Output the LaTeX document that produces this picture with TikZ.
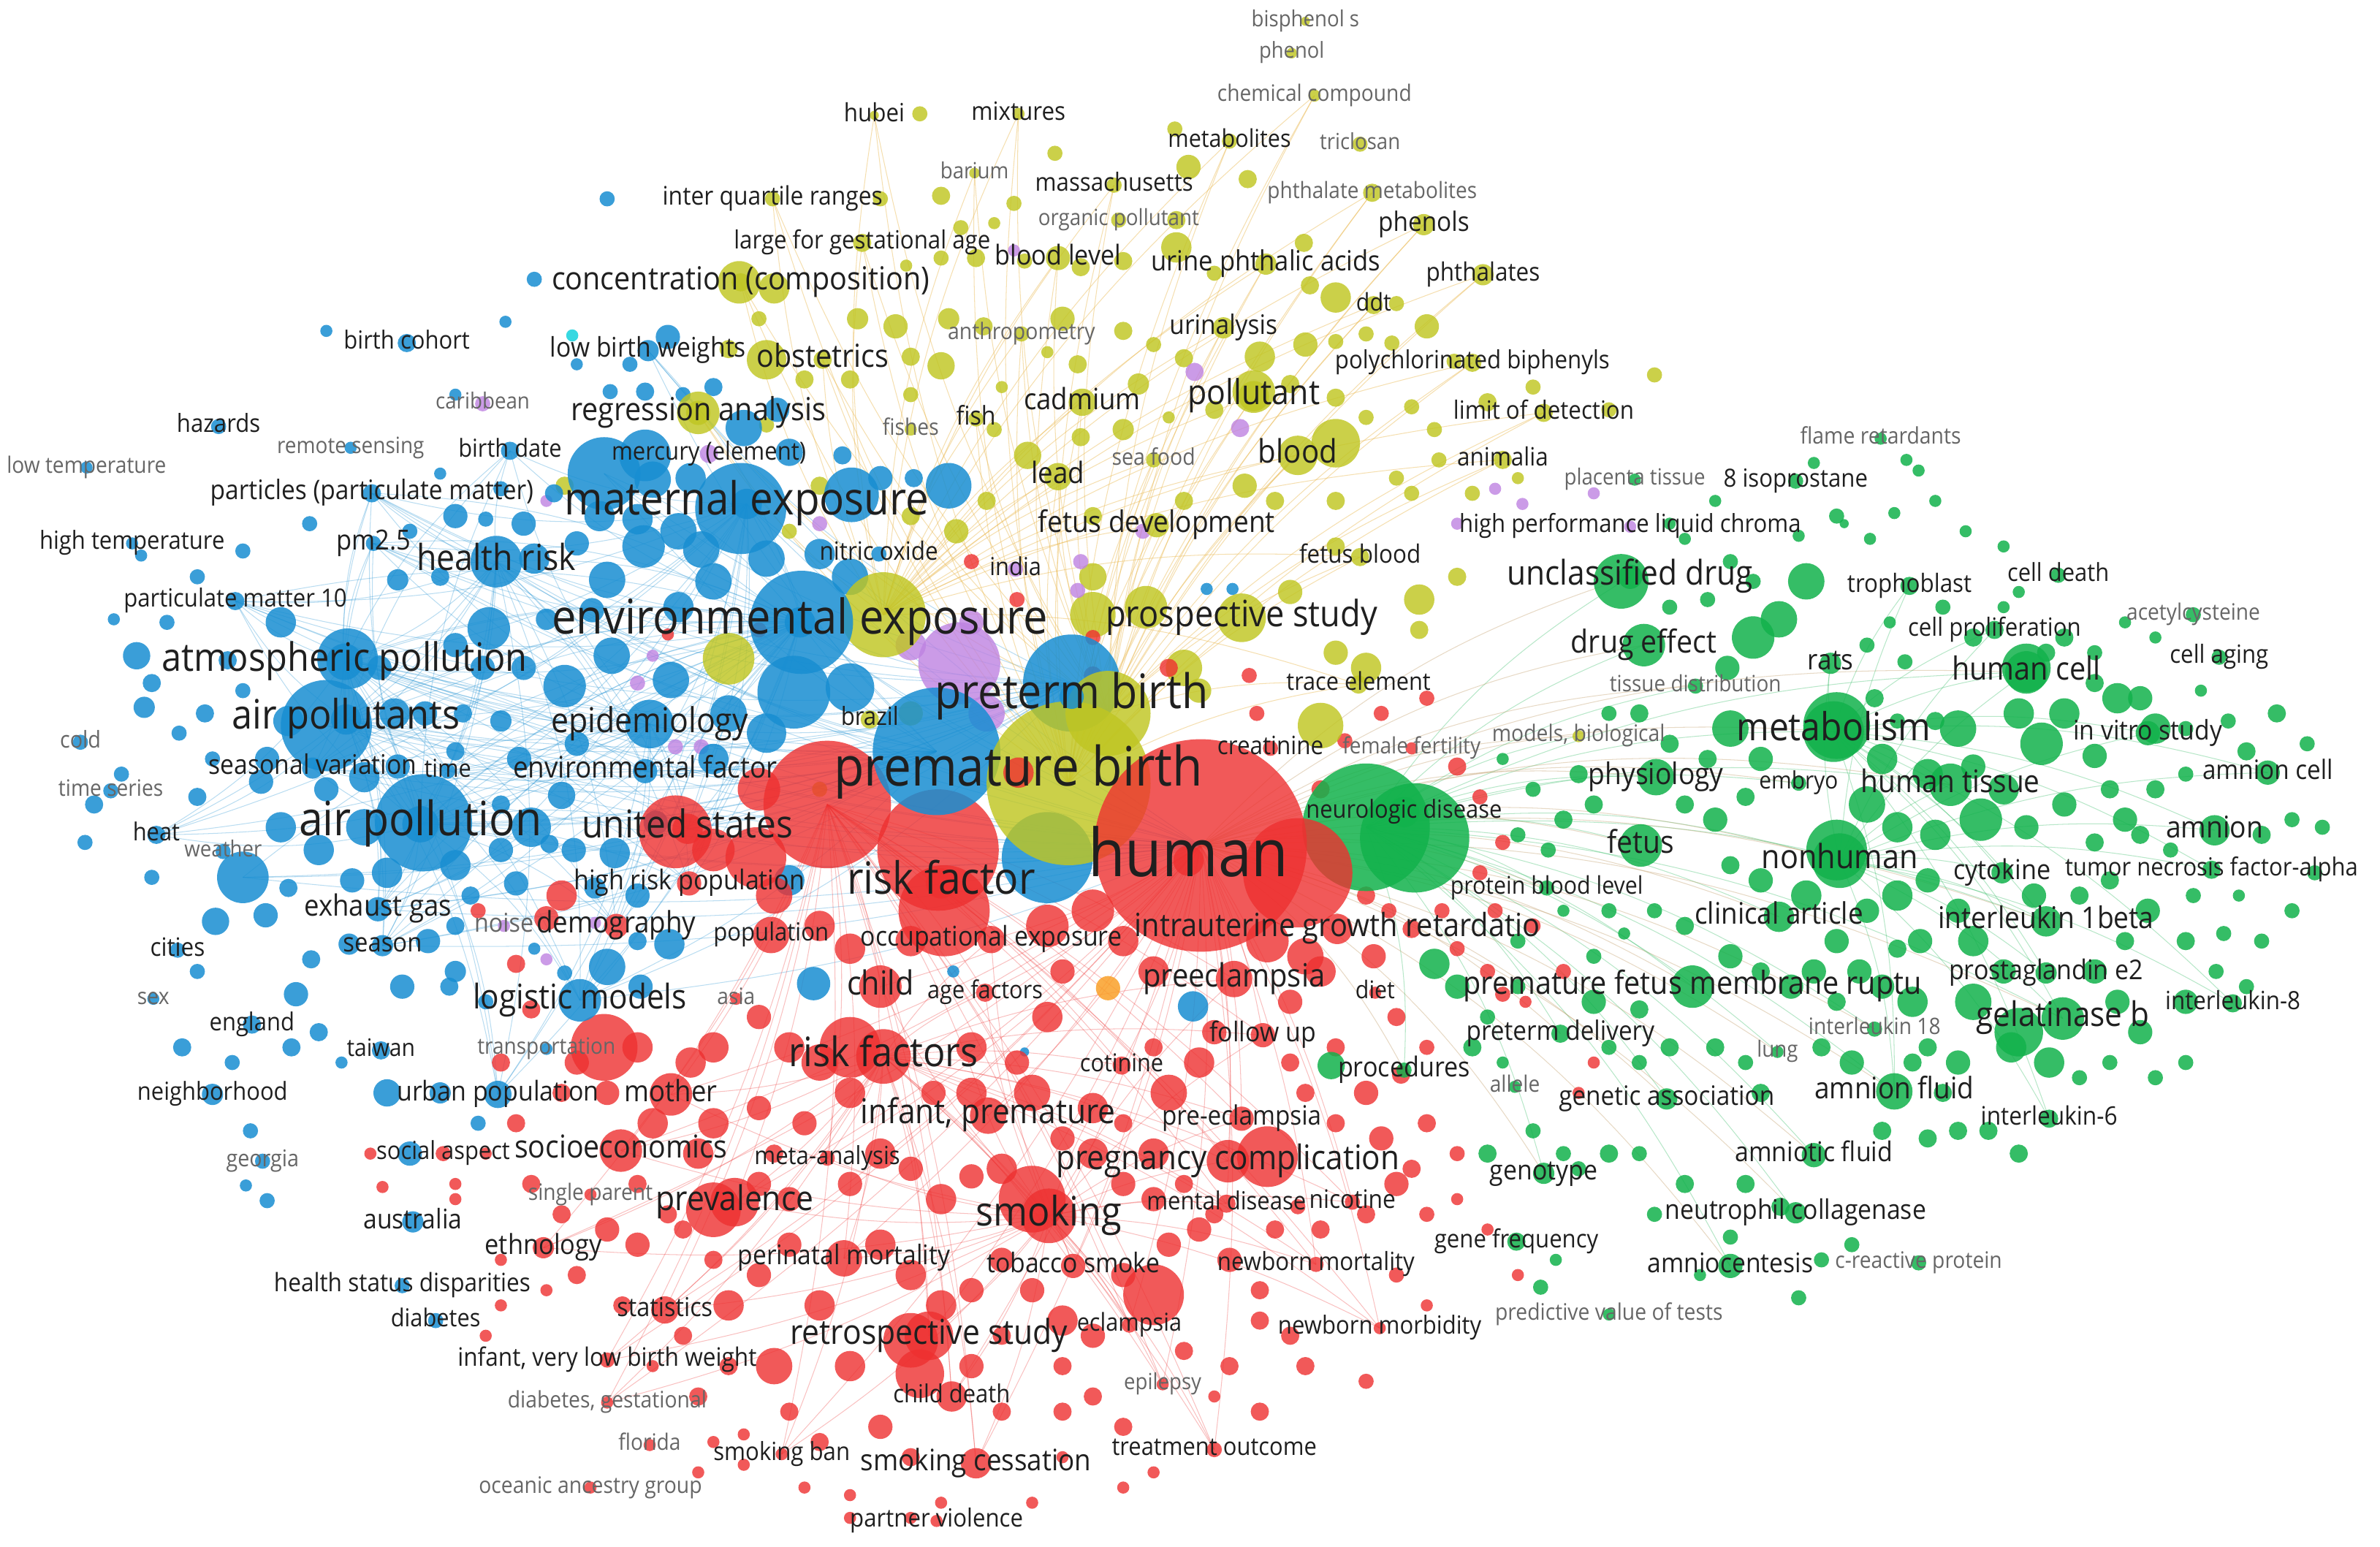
\documentclass[tikz,border=0pt]{standalone}
\usepackage{fontspec}
\usepackage{graphicx}
\setmainfont{Open Sans}
\usetikzlibrary{backgrounds}
\definecolor{vr}{RGB}{238,48,48}
\definecolor{vb}{RGB}{24,142,210}
\definecolor{vg}{RGB}{18,178,76}
\definecolor{vy}{RGB}{192,198,34}
\definecolor{vp}{RGB}{190,130,225}
\definecolor{vo}{RGB}{250,160,40}
\definecolor{vc}{RGB}{20,210,220}
\definecolor{vey}{RGB}{235,185,80}
\definecolor{vtan}{RGB}{195,160,110}
\pgfdeclarelayer{bgl}
\pgfdeclarelayer{edges}
\pgfdeclarelayer{circ}
\pgfsetlayers{bgl,edges,circ,main}
\tikzset{
  cr/.style={fill=vr,fill opacity=.8},
  cb/.style={fill=vb,fill opacity=.85},
  cg/.style={fill=vg,fill opacity=.85},
  cy/.style={fill=vy,fill opacity=.82},
  cp/.style={fill=vp,fill opacity=.8},
  co/.style={fill=vo,fill opacity=.85},
  cc/.style={fill=vc,fill opacity=.85},
  lab/.style={inner sep=0pt,text=black!88},
  labg/.style={inner sep=0pt,text=black!60},
  eb/.style={draw=vb,draw opacity=.3,line width=.5pt},
  er/.style={draw=vr,draw opacity=.3,line width=.5pt},
  ey/.style={draw=vey,draw opacity=.45,line width=.5pt},
  eg/.style={draw=vg,draw opacity=.3,line width=.5pt},
  et/.style={draw=vtan,draw opacity=.4,line width=.5pt}
}
\newcommand\kw[7][lab]{%
  \coordinate (#2) at (#3);
  \begin{pgfonlayer}{circ}\fill[#5] (#2) circle (#4);\end{pgfonlayer}
  \node[#1] (#2t) at (#2) {\scalebox{1}[1.1]{\resizebox{#6pt}{!}{\fontsize{20}{24}\selectfont #7\strut}}};
}
\newcommand\hub[4]{%
  \coordinate (#1) at (#2);
  \begin{pgfonlayer}{circ}\fill[#4] (#1) circle (#3);\end{pgfonlayer}
}
\begin{document}
\begin{tikzpicture}[x=1pt,y=-1pt]
\useasboundingbox (0,0) rectangle (1568,1019);
\begin{pgfonlayer}{bgl}\fill[white] (0,0) rectangle (1568,1019);\end{pgfonlayer}

% ---------- unlabeled small circles ----------
\begin{pgfonlayer}{circ}
\foreach \x/\y/\r in {606/75/5,695/101/5,774/85/5,783/110/8,822/118/6,775/145/6,668/134/5,620/129/6,580/131/5,633/150/5,655/147/4,597/175/4,620/170/5,643/170/6,675/172/5,712/176/6,740/172/6,775/163/10,800/180/5,859/160/6,880/196/10,863/188/6,920/200/5,940/215/8,900/220/5,917/226/5,880/225/5,860/227/8,830/235/10,780/236/6,710/240/6,690/232/4,620/241/9,600/235/6,560/250/6,600/260/5,660/255/4,655/283/5,677/300/9,712/288/6,740/283/7,770/275/4,800/270/6,850/253/6,880/262/6,900/275/5,930/268/5,945/283/5,948/303/5,920/315/5,980/265/6,1060/270/5,1090/247/5,840/330/6,880/330/6,930/325/5,970/325/5,1000/315/4,780/330/6,820/320/8,720/340/6,650/330/6,630/350/8,600/340/6,540/320/6,520/350/5,720/380/9,850/390/8,880/360/6,935/395/10,960/380/6,880/430/8,935/415/6,900/440/10,720/405/15,755/400/14,500/210/5,480/230/6,505/280/5,530/250/6,565/210/7,590/215/8,625/210/7,648/215/6,700/210/8,740/218/6,750/253/7,760/227/5,958/238/5,1010/255/5,510/190/10,480/434/17,372/320/6,540/520/5,600/470/8,780/440/12,790/455/8}
  \fill[cy] (\x,\y) circle (\r);
\foreach \x/\y/\r in {668/165/4,787/245/6,817/282/6,753/350/5,710/389/5,712/370/5,960/345/4,985/322/4,1003/332/4,1050/325/4,420/450/5,430/432/4,445/492/5,462/492/5,360/632/4,392/608/4,600/425/10,650/470/12,640/410/8,540/345/5,360/330/4}
  \fill[cp] (\x,\y) circle (\r);
\foreach \x/\y/\r in {400/131/5,352/184/5,215/218/4,333/212/4,300/260/4,440/222/8,415/240/5,380/240/4,402/258/5,425/258/6,290/312/4,204/345/5,160/363/5,93/366/4,75/408/4,130/380/5,110/410/5,90/432/9,150/435/6,95/466/7,80/510/5,118/483/5,140/500/5,160/455/5,185/410/10,262/382/7,270/350/5,300/340/8,345/345/8,365/325/6,352/368/10,380/358/8,400/382/12,424/360/14,447/350/12,462/362/12,390/402/8,360/408/7,322/414/14,300/425/8,345/440/8,372/452/14,403/432/12,442/448/12,480/470/12,505/483/13,523/456/24,560/453/16,470/500/10,380/490/8,342/500/8,330/475/7,305/470/6,370/524/9,350/545/13,340/582/8,310/590/6,300/640/7,320/660/5,282/620/8,230/622/7,205/632/6,195/655/8,175/603/8,142/607/9,130/640/5,120/690/6,153/700/5,192/690/6,210/680/6,225/700/4,265/650/8,290/720/7,255/720/9,270/760/8,315/740/5,400/637/12,422/650/8,441/622/10,362/556/6,210/560/10,232/580/8,185/545/10,100/450/6,135/470/6,56/555/5,62/530/6,100/578/5,130/525/6,172/515/8,240/512/10,262/505/8,352/625/4,372/641/5,536/648/11,628/640/4,786/663/10,675/693/3,165/745/5,162/781/4,176/791/5,296/650/6,450/260/5,470/255/6,520/298/9,555/300/6,602/315/6,625/320/15,580/315/8,490/282/12,512/270/8,430/316/12,455/315/10,420/342/10,395/340/10,540/365/10,560/380/12,505/368/12,470/383/12,447/400/10,330/322/5,320/342/5,290/380/6,318/440/8,280/470/8,300/495/6,260/470/10,250/440/8,190/475/10,176/500/8,240/545/12,215/520/8,190/585/6,255/575/10,300/570/10,330/560/8,330/530/6,300/610/6,432/542/8,405/562/10,420/590/8,392/585/7,378/560/8,520/580/10,420/620/6,795/388/4,812/388/4,425/300/17}
  \fill[cb] (\x,\y) circle (\r);
\foreach \x/\y/\r in {500/520/14,470/560/14,510/590/12,540/610/10,560/625/10,600/620/10,690/610/14,720/600/14,740/620/10,760/640/10,700/640/8,690/670/10,670/700/8,640/690/10,615/720/8,560/720/10,540/700/12,520/690/10,500/670/8,470/690/10,455/700/10,470/740/10,500/730/8,510/760/6,520/790/8,560/780/8,580/760/10,600/770/8,620/790/10,640/775/8,660/770/10,720/760/10,740/780/8,760/760/10,770/720/12,790/700/10,800/680/8,760/690/6,850/660/8,870/640/10,880/690/6,860/720/6,880/740/6,900/720/8,910/750/8,940/740/6,850/700/6,835/620/14,860/630/12,905/630/8,930/612/6,950/600/5,960/625/5,980/640/5,990/655/5,920/670/6,940/690/5,900/590/6,580/820/10,600/840/10,620/860/10,640/850/8,660/830/8,680/850/8,700/870/10,660/880/6,640/900/8,700/900/6,720/880/8,760/853/20,740/840/8,770/820/8,790/810/8,810/830/8,830/850/6,850/880/6,860/900/6,900/910/5,810/900/6,830/870/6,520/820/8,500/840/8,480/860/10,470/830/6,540/860/10,560/900/10,510/900/12,480/900/6,460/920/6,520/930/6,540/950/6,580/940/8,600/960/6,660/930/6,700/930/6,720/920/6,740/940/6,620/990/4,560/985/4,490/945/4,460/970/4,430/900/4,450/880/6,410/860/6,380/840/6,360/850/4,370/800/6,400/810/8,420/820/8,440/800/6,350/780/6,340/740/6,320/760/4,300/780/4,370/720/6,380/700/8,420/690/10,400/720/8,430/740/10,460/760/10,500/780/8,530/740/8,420/780/6,450/810/6,330/830/4,300/790/4,330/860/4,320/880/4,330/700/6,350/665/6,340/635/6,315/600/5,360/605/8,370/590/10,640/720/10,680/720/12,700/750/8,720/730/10,740/740/6,760/790/8,780/780/6,800/800/6,840/810/6,870/810/6,900/800/6,920/780/8,930/770/6,940/800/5,960/790/4,980/810/4,960/760/5,920/840/5,940/860/4,1000/840/4,855/795/5,780/890/6,800/920/4,830/930/6,760/970/4,740/980/4,700/960/4,680/990/4,600/1000/4,560/1000/4,530/980/4,490/965/4,470/950/4,828/470/5,870/520/6,823/445/5,886/488/5,910/470/5,940/460/5,960/505/6,975/525/5,990/555/5,975/575/5,985/600/5,915/600/5,1010/610/5,1030/640/5,1005/660/4,1050/700/4,1040/720/4,720/445/6,770/440/6,640/370/5,670/395/5,500/415/5,440/418/4,720/420/5,923/708/6,244/760/4,252/782/4}
  \fill[cr] (\x,\y) circle (\r);
\foreach \x/\y/\r in {1140/370/5,1155/383/5,1190/383/12,1172/408/12,1155/420/14,1138/440/8,1100/400/5,1125/395/5,1110/355/4,1185/353/4,1215/345/3,1232/355/4,1275/330/4,1295/350/4,1320/360/4,1330/390/4,1280/400/5,1300/420/6,1245/410/4,1230/425/5,1255/436/5,1235/460/6,1250/475/5,1275/475/6,1290/480/12,1300/505/8,1330/470/10,1345/490/14,1360/470/10,1380/450/6,1395/460/10,1410/460/8,1420/480/10,1380/498/8,1390/520/6,1400/540/8,1420/520/6,1440/510/5,1440/480/5,1468/475/5,1480/495/6,1500/470/6,1520/490/5,1450/455/4,1420/420/4,1400/410/4,1380/430/5,1360/420/6,1348/430/6,1320/400/4,1270/510/10,1240/500/10,1230/530/12,1250/545/10,1275/550/10,1305/540/14,1320/520/10,1335/545/8,1360/530/8,1380/555/6,1410/550/6,1430/560/5,1445/590/5,1475/590/4,1490/550/6,1510/540/5,1530/545/5,1525/575/5,1510/600/5,1490/620/5,1465/615/5,1440/620/6,1415/600/8,1400/620/6,1380/640/8,1395/660/8,1410/680/8,1440/660/8,1460/640/5,1480/650/5,1440/700/5,1420/710/5,1390/700/5,1370/710/5,1350/700/10,1325/690/10,1300/660/12,1290/700/8,1270/690/6,1260/660/10,1240/650/8,1225/640/8,1210/620/8,1230/600/8,1250/590/10,1270/580/8,1290/600/8,1300/620/10,1320/640/8,1340/590/8,1370/590/6,1390/580/6,1265/620/8,1250/625/6,1190/590/10,1160/580/8,1140/570/6,1130/540/8,1110/530/6,1150/525/6,1160/500/8,1140/480/12,1125/500/6,1100/490/6,1080/470/6,1060/470/5,1040/510/6,1030/540/6,1050/530/6,1010/520/5,990/500/4,1000/550/5,1020/560/5,1000/620/5,1030/600/4,1060/600/5,1050/630/5,1070/615/4,1090/600/5,1110/610/6,1140/630/8,1160/640/6,1180/650/8,1195/640/8,1210/660/6,1200/690/6,1220/700/8,1260/700/6,1280/720/6,1290/745/6,1310/745/6,1270/750/6,1240/745/6,1160/720/6,1150/700/5,1130/690/6,1100/690/6,1080/700/5,1060/690/5,1050/660/8,1080/665/6,1000/650/5,980/670/5,960/650/8,945/635/10,970/690/6,1010/745/5,1030/760/5,980/760/6,1060/760/6,1080/760/5,1110/780/6,1090/800/5,1150/780/6,1140/815/5,1220/820/5,1200/830/5,1185/855/5,1120/840/4,1040/770/5,1025/830/4,1015/848/5,990/700/4,1210/340/5,1195/305/4,1256/303/4,1264/310/4,1248/338/4,1100/345/4,1130/330/4,877/702/9,1173/795/6,1330/760/6}
  \fill[cg] (\x,\y) circle (\r);
\fill[co] (730,651) circle (8);
\fill[cc] (377,221) circle (4);
\end{pgfonlayer}

% ---------- big hub circles ----------
\hub{mxd}{398,312}{24}{cb}
\hub{mxe}{561,326}{18}{cb}
\hub{mxc}{488,335}{30}{cb}
\hub{yle}{582,405}{28}{cy}
\hub{exc}{528,410}{34}{cb}
\hub{atd}{229,434}{20}{cb}
\hub{atc}{215,478}{30}{cb}
\hub{apc}{279,542}{32}{cb}
\hub{wec}{160,578}{17}{cb}
\hub{conc}{487,186}{14}{cy}
\hub{obsc}{505,237}{13}{cy}
\hub{regc}{460,272}{14}{cy}
\hub{polc}{826,258}{14}{cy}
\hub{bloc}{880,292}{16}{cy}
\hub{trac}{870,478}{15}{cy}
\hub{usc}{445,548}{24}{cr}
\hub{usd}{498,565}{20}{cr}
\hub{trnr}{398,690}{22}{cr}
\hub{pur}{632,437}{27}{cp}
\hub{ptc}{706,450}{32}{cb}
\hub{ylb}{730,470}{28}{cy}
\hub{pbr}{545,530}{42}{cr}
\hub{rfa}{618,560}{40}{cr}
\hub{rfb}{622,600}{30}{cr}
\hub{pbb}{617,495}{42}{cb}
\hub{blc}{690,565}{30}{cb}
\hub{pby}{704,516}{54}{cy}
\hub{ngr1}{900,545}{42}{cg}
\hub{ngr2}{932,552}{36}{cg}
\hub{humc}{791,557}{70}{cr}
\hub{rdr}{855,575}{36}{cr}
\hub{rfsc}{560,690}{20}{cr}
\hub{prvc}{470,797}{18}{cr}
\hub{smoc}{680,790}{22}{cr}
\hub{retc}{600,883}{18}{cr}
\hub{cdec}{606,905}{16}{cr}
\hub{prcc}{835,762}{20}{cr}
\hub{ucdc}{1068,383}{18}{cg}
\hub{mtbc}{1210,478}{22}{cg}
\hub{nhuc}{1210,560}{20}{cg}
\hub{gelc}{1330,680}{16}{cg}
\hub{hcec}{1335,440}{16}{cg}

% ---------- labelled keywords: yellow ----------
\kw[labg]{bis}{860,14}{3}{cy}{71}{bisphenol s}
\kw[labg]{phe}{851,35}{3.5}{cy}{43}{phenol}
\kw[labg]{chc}{866,63}{4}{cy}{128}{chemical compound}
\kw{hub}{576,76}{3}{cy}{40}{hubei}
\kw{mix}{671,75}{4}{cy}{62}{mixtures}
\kw{metl}{810,93}{5}{cy}{81}{metabolites}
\kw[labg]{tri}{896,95}{5}{cy}{53}{triclosan}
\kw[labg]{bar}{642,114}{3.5}{cy}{45}{barium}
\kw{mas}{734,122}{5}{cy}{104}{massachusetts}
\kw{iqr}{509,131}{5}{cy}{145}{inter quartile ranges}
\kw[labg]{orp}{737,145}{5}{cy}{106}{organic pollutant}
\kw[labg]{phm}{904,127}{6}{cy}{138}{phthalate metabolites}
\kw{phs}{938,148}{7}{cy}{60}{phenols}
\kw{lga}{568,160}{6}{cy}{169}{large for gestational age}
\kw{bll}{697,170}{8}{cy}{83}{blood level}
\kw{upa}{834,174}{7}{cy}{151}{urine phthalic acids}
\kw{pht}{977,181}{7}{cy}{75}{phthalates}
\kw{con}{488,186}{6}{cy}{249}{concentration (composition)}
\kw{ddt}{905,201}{6}{cy}{23}{ddt}
\kw[labg]{ant}{673,220}{5}{cy}{97}{anthropometry}
\kw{ury}{806,216}{7}{cy}{71}{urinalysis}
\kw{obs}{542,237}{6}{cy}{87}{obstetrics}
\kw{pcb}{970,239}{6}{cy}{181}{polychlorinated biphenyls}
\kw{reg}{460,272}{8}{cy}{168}{regression analysis}
\kw{cad}{713,265}{9}{cy}{77}{cadmium}
\kw{pol}{826,261}{10}{cy}{87}{pollutant}
\kw{fis}{643,276}{5}{cy}{26}{fish}
\kw[labg]{fss}{600,283}{4}{cy}{37}{fishes}
\kw{lod}{1017,272}{6}{cy}{119}{limit of detection}
\kw{blo}{855,300}{13}{cy}{52}{blood}
\kw[labg]{sfd}{760,303}{5}{cy}{55}{sea food}
\kw{ani}{990,303}{6}{cy}{60}{animalia}
\kw{lea}{697,314}{9}{cy}{35}{lead}
\kw{fde}{762,346}{8}{cy}{156}{fetus development}
\kw{fbl}{896,367}{6}{cy}{80}{fetus blood}
\kw{pro}{818,407}{16}{cy}{179}{prospective study}
\kw{tre}{895,451}{6}{cy}{95}{trace element}
\kw[labg]{mob}{1040,485}{4}{cy}{114}{models, biological}
\kw{bra}{573,474}{6}{cy}{38}{brazil}
% purple / misc
\kw{hpl}{1074,347}{4}{cp}{225}{high performance liquid chroma}
\kw[labg]{plt}{1077,316}{4}{cg}{93}{placenta tissue}
\kw{iso}{1183,317}{5}{cg}{95}{8 isoprostane}
\kw[labg]{fla}{1239,289}{4}{cg}{106}{flame retardants}
\kw{ind}{669,375}{5}{cp}{34}{india}
\kw{nio}{579,365}{5}{cb}{78}{nitric oxide}
% ---------- blue ----------
\kw{bco}{268,226}{6}{cb}{83}{birth cohort}
\kw{lbw}{427,231}{7}{cb}{129}{low birth weights}
\kw[labg]{car}{318,266}{5}{cp}{62}{caribbean}
\kw{haz}{144,281}{5}{cb}{55}{hazards}
\kw[labg]{rse}{231,295}{4}{cb}{97}{remote sensing}
\kw{bda}{336,297}{6}{cb}{68}{birth date}
\kw{mer}{467,299}{6}{cp}{128}{mercury (element)}
\kw[labg]{ltp}{57,308}{4}{cb}{105}{low temperature}
\kw{pti}{245,325}{6}{cb}{213}{particles (particulate matter)}
\kw{mex}{492,332}{10}{cb}{240}{maternal exposure}
\kw{hte}{87,358}{4}{cb}{122}{high temperature}
\kw{pmt}{246,358}{5}{cb}{49}{pm2.5}
\kw{hri}{327,370}{17}{cb}{105}{health risk}
\kw{pmx}{155,396}{6}{cb}{147}{particulate matter 10}
\kw{eex}{527,410}{10}{cb}{327}{environmental exposure}
\kw{atm}{227,436}{12}{cb}{241}{atmospheric pollution}
\kw{apt}{228,474}{10}{cb}{150}{air pollutants}
\kw{epi}{428,477}{16}{cb}{130}{epidemiology}
\kw[labg]{col}{53,489}{5}{cb}{27}{cold}
\kw{sva}{206,506}{7}{cb}{137}{seasonal variation}
\kw{tim}{295,508}{5}{cb}{31}{time}
\kw{enf}{425,508}{8}{cb}{174}{environmental factor}
\kw[labg]{tse}{73,521}{5}{cb}{69}{time series}
\kw{apo}{277,543}{12}{cb}{160}{air pollution}
\kw{hea}{103,550}{6}{cb}{31}{heat}
\kw[labg]{wea}{147,561}{5}{cb}{51}{weather}
\kw{exg}{249,599}{8}{cb}{97}{exhaust gas}
\kw[labg]{noi}{332,610}{4}{cp}{39}{noise}
\kw{cit}{117,626}{5}{cb}{36}{cities}
\kw{sea}{252,623}{7}{cb}{52}{season}
\kw{lgm}{382,659}{14}{cb}{141}{logistic models}
\kw[labg]{sex}{101,658}{4}{cb}{21}{sex}
\kw{eng}{166,675}{6}{cb}{56}{england}
\kw{tai}{251,692}{6}{cb}{45}{taiwan}
\kw[labg]{trn}{360,691}{4}{cb}{91}{transportation}
\kw{nei}{140,721}{7}{cb}{99}{neighborhood}
\kw{urp}{328,721}{9}{cb}{133}{urban population}
\kw[labg]{geo}{173,765}{5}{cb}{48}{georgia}
\kw{aus}{272,805}{7}{cb}{65}{australia}
\kw{hsd}{265,847}{5}{cb}{169}{health status disparities}
\kw{dia}{287,870}{5}{cb}{59}{diabetes}
% ---------- red ----------
\kw{usa}{453,546}{10}{cr}{139}{united states}
\kw{hrp}{454,582}{8}{cr}{152}{high risk population}
\kw{dem}{406,610}{8}{cr}{105}{demography}
\kw{ppl}{508,616}{12}{cr}{76}{population}
\kw{rif}{620,582}{10}{cr}{124}{risk factor}
\kw{pmb}{671,509}{10}{cr}{243}{premature birth}
\kw{ptb}{706,459}{8}{cb}{180}{preterm birth}
\kw{hum}{783,567}{10}{cr}{132}{human}
\kw{cre}{837,493}{5}{cr}{70}{creatinine}
\kw[labg]{ffe}{930,493}{4}{cr}{91}{female fertility}
\kw{occ}{653,619}{9}{cr}{172}{occupational exposure}
\kw{iug}{881,612}{10}{cr}{267}{intrauterine growth retardatio}
\kw{chi}{580,650}{14}{cr}{44}{child}
\kw{agf}{649,654}{6}{cr}{76}{age factors}
\kw[labg]{asi}{485,658}{4}{cr}{25}{asia}
\kw{pre}{813,645}{12}{cr}{120}{preeclampsia}
\kw{die}{906,654}{4}{cr}{26}{diet}
\kw{fol}{832,682}{8}{cr}{70}{follow up}
\kw{rfs}{582,696}{18}{cr}{125}{risk factors}
\kw{mot}{442,721}{14}{cr}{61}{mother}
\kw{cot}{739,702}{6}{cr}{55}{cotinine}
\kw{inp}{651,735}{12}{cr}{168}{infant, premature}
\kw{pec}{818,737}{8}{cr}{105}{pre-eclampsia}
\kw{soa}{292,760}{5}{cr}{88}{social aspect}
\kw{soc}{409,758}{14}{cr}{140}{socioeconomics}
\kw{mta}{545,763}{5}{cr}{96}{meta-analysis}
\kw{prc}{809,765}{14}{cr}{226}{pregnancy complication}
\kw[labg]{spa}{389,787}{4}{cr}{82}{single parent}
\kw{prv}{484,792}{16}{cr}{104}{prevalence}
\kw{smo}{691,801}{18}{cr}{96}{smoking}
\kw{mdi}{808,793}{6}{cr}{105}{mental disease}
\kw{nic}{891,792}{5}{cr}{57}{nicotine}
\kw{eth}{358,822}{7}{cr}{77}{ethnology}
\kw{per}{556,829}{12}{cr}{140}{perinatal mortality}
\kw{tob}{707,834}{8}{cr}{114}{tobacco smoke}
\kw{nbm}{867,833}{5}{cr}{130}{newborn mortality}
\kw{sta}{438,863}{9}{cr}{63}{statistics}
\kw{ecl}{744,873}{5}{cr}{69}{eclampsia}
\kw{nbb}{909,875}{4}{cr}{134}{newborn morbidity}
\kw{ret}{612,880}{16}{cr}{183}{retrospective study}
\kw{vlb}{400,896}{5}{cr}{197}{infant, very low birth weight}
\kw{cde}{627,920}{10}{cr}{77}{child death}
\kw[labg]{epl}{766,912}{4}{cr}{51}{epilepsy}
\kw[labg]{dgs}{400,924}{4}{cr}{131}{diabetes, gestational}
\kw[labg]{flo}{428,952}{4}{cr}{41}{florida}
\kw{sba}{515,958}{4}{cr}{90}{smoking ban}
\kw{sce}{643,964}{10}{cr}{152}{smoking cessation}
\kw{tou}{800,955}{5}{cr}{135}{treatment outcome}
\kw[labg]{oag}{389,980}{4}{cr}{147}{oceanic ancestry group}
\kw{pvi}{617,1002}{4}{cr}{114}{partner violence}
% ---------- green ----------
\kw{ucd}{1074,380}{8}{cg}{162}{unclassified drug}
\kw{tro}{1258,386}{6}{cg}{82}{trophoblast}
\kw{cdt}{1356,379}{5}{cg}{67}{cell death}
\kw[labg]{acy}{1445,405}{5}{cg}{88}{acetylcysteine}
\kw{cpr}{1314,415}{6}{cg}{114}{cell proliferation}
\kw{dre}{1083,425}{14}{cg}{96}{drug effect}
\kw{rat}{1206,437}{7}{cg}{30}{rats}
\kw{hce}{1335,443}{14}{cg}{98}{human cell}
\kw{cag}{1462,433}{5}{cg}{65}{cell aging}
\kw[labg]{tdi}{1117,452}{5}{cg}{113}{tissue distribution}
\kw{mtb}{1208,482}{20}{cg}{128}{metabolism}
\kw{ivs}{1415,483}{8}{cg}{98}{in vitro study}
\kw{phy}{1091,512}{12}{cg}{89}{physiology}
\kw{emb}{1185,516}{5}{cg}{52}{embryo}
\kw{hti}{1285,517}{14}{cg}{118}{human tissue}
\kw{amc}{1494,509}{8}{cg}{86}{amnion cell}
\kw{neu}{925,535}{10}{cg}{129}{neurologic disease}
\kw{fet}{1081,557}{14}{cg}{44}{fetus}
\kw{amn}{1459,547}{10}{cg}{64}{amnion}
\kw{nhu}{1212,567}{18}{cg}{103}{nonhuman}
\kw{cyt}{1319,575}{7}{cg}{64}{cytokine}
\kw{tnf}{1457,573}{6}{cg}{193}{tumor necrosis factor-alpha}
\kw{pbl}{1019,585}{5}{cg}{127}{protein blood level}
\kw{cla}{1172,604}{10}{cg}{111}{clinical article}
\kw{ilb}{1348,607}{10}{cg}{142}{interleukin 1beta}
\kw{pge}{1348,641}{7}{cg}{128}{prostaglandin e2}
\kw{pfm}{1115,650}{14}{cg}{302}{premature fetus membrane ruptu}
\kw{gel}{1359,671}{14}{cg}{114}{gelatinase b}
\kw{ile}{1471,661}{6}{cg}{89}{interleukin-8}
\kw{ptd}{1028,681}{6}{cg}{124}{preterm delivery}
\kw[labg]{ilh}{1235,678}{5}{cg}{87}{interleukin 18}
\kw[labg]{lun}{1171,693}{4}{cg}{27}{lung}
\kw{prd}{925,705}{5}{cg}{87}{procedures}
\kw[labg]{all}{998,716}{4}{cg}{33}{allele}
\kw{gas}{1098,724}{7}{cg}{142}{genetic association}
\kw{amf}{1248,719}{12}{cg}{105}{amnion fluid}
\kw{ils}{1350,737}{6}{cg}{90}{interleukin-6}
\kw{amt}{1195,761}{8}{cg}{104}{amniotic fluid}
\kw{gtp}{1017,773}{7}{cg}{71}{genotype}
\kw{nco}{1183,799}{7}{cg}{172}{neutrophil collagenase}
\kw{gfr}{999,818}{6}{cg}{108}{gene frequency}
\kw{amz}{1140,834}{8}{cg}{109}{amniocentesis}
\kw[labg]{crp}{1264,832}{5}{cg}{110}{c-reactive protein}
\kw[labg]{pvt}{1060,866}{4}{cg}{150}{predictive value of tests}

% ---------- links ----------
\begin{pgfonlayer}{edges}
\foreach \s in {apo,atm,apt,eex,mex,hri,epi} {
  \foreach \t in {pmt,pmx,pti,sva,exg,sea,lgm,hea,urp,enf,usa,hrp,dem,bda,tim,apo,atm,apt} {
    \draw[eb] (\s) to[bend left=12] (\t);
  }
}
\foreach \s in {apo,atm,apt,hri,lgm,sva,exg,pmx,pti,epi,enf,mex,eex,usa,pmt,lbw,mxd,tim,sea,atc,apc,atd,wec} {
  \draw[eb] (\s) to[bend right=10] (pbb);
  \draw[eb] (\s) to[bend right=8] (humc);
  \draw[eb] (\s) to[bend right=12] (ptc);
  \draw[eb] (\s) to[bend left=14] (exc);
}
\foreach \s in {humc,pbr,rfs,smo} {
  \foreach \t in {inp,prc,pre,pec,mot,soc,prv,per,tob,ret,cde,sce,sta,vlb,mdi,nic,nbm,ecl,cot,fol,chi,agf,occ,mta,eth,sba,tou,epl,nbb,dgs} {
    \draw[er] (\s) to[bend left=8] (\t);
  }
}
\foreach \s in {pby,ylb,yle} {
  \foreach \t in {con,obs,reg,cad,pol,blo,lea,fis,fde,bll,upa,metl,mas,iqr,lga,ddt,pcb,phs,pht,ury,ant,sfd,fbl,tre,lod,ani,hub,mix,bar,chc,phm} {
    \draw[ey] (\s) to[bend left=10] (\t);
  }
}
\foreach \t in {ucd,dre,mtb,phy,fet,nhu,cla,pfm,gel,amf,gas,ptd,tdi,mob,pbl,ilb,hce,hti,emb,gtp,amt,prd,lun,ilh,amz,nco} {
  \draw[eg] (ngr1) to[bend left=12] (\t);
  \draw[et] (humc) to[bend left=14] (\t);
}
\foreach \s in {mtb,nhu} {
  \foreach \t in {hti,hce,amn,amc,ivs,cyt,tnf,ilb,pge,gel,ile,amf,ils,cpr,tro,rat} {
    \draw[eg] (\s) to[bend left=10] (\t);
  }
}
\end{pgfonlayer}
\end{tikzpicture}
\end{document}
